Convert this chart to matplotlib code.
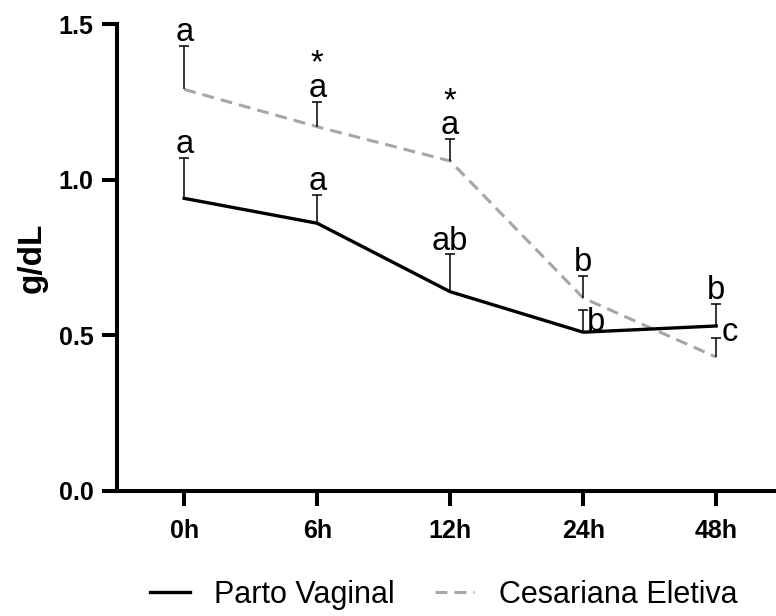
import matplotlib.pyplot as plt

times = ["0h", "6h", "12h", "24h", "48h"]
vaginal = [0.94, 0.86, 0.64, 0.51, 0.53]
vaginal_err = [0.13, 0.09, 0.12, 0.07, 0.07]
cesarea = [1.29, 1.17, 1.06, 0.62, 0.43]
cesarea_err = [0.14, 0.08, 0.07, 0.07, 0.06]
vaginal_letters = ["a", "a", "ab", "b", "b"]
cesarea_letters = ["a", "*\na", "*\na", "b", "c"]

plt.rcParams['font.family'] = ['Liberation Sans', 'DejaVu Sans']

fig = plt.figure(figsize=(7.76, 6.16), dpi=100)
ax = fig.add_axes([0.151, 0.203, 0.849, 0.758])

x = list(range(len(times)))
ax.plot(x, vaginal, color='black', lw=2.4, label='Parto Vaginal', zorder=3)
ax.plot(x, cesarea, color='#a6a6a6', lw=2.2, ls=(0, (3.9, 2.3)),
        label='Cesariana Eletiva', zorder=2)

# one-sided (upper) error bars only
for vals, errs in [(vaginal, vaginal_err), (cesarea, cesarea_err)]:
    eb = ax.errorbar(x, vals, yerr=[[0] * 5, errs], fmt='none', ecolor='black',
                     elinewidth=1.1, capsize=3.6, capthick=1.1, zorder=4)
    eb.lines[1][0].set_visible(False)

lab_font = dict(fontsize=23.5, linespacing=0.72)
for i in range(5):
    top = vaginal[i] + vaginal_err[i]
    if i == 3:
        ax.text(i + 0.025, vaginal[i] - 0.02, vaginal_letters[i], ha='left', va='bottom', **lab_font)
    else:
        ax.text(i, top - 0.007, vaginal_letters[i], ha='center', va='bottom', **lab_font)
    top = cesarea[i] + cesarea_err[i]
    if i == 4:
        ax.text(i + 0.04, 0.51, cesarea_letters[i], ha='left', va='center', **lab_font)
    else:
        ax.text(i, top - 0.007, cesarea_letters[i], ha='center', va='bottom', **lab_font)

ax.set_xlim(-0.504, 4.45)
ax.set_ylim(0, 1.5)
ax.set_yticks([0.0, 0.5, 1.0, 1.5])
ax.set_yticklabels(["0.0", "0.5", "1.0", "1.5"])
ax.set_xticks(x)
ax.set_xticklabels(times)
for lbl in ax.get_xticklabels() + ax.get_yticklabels():
    lbl.set_fontweight('bold')
    lbl.set_fontsize(18)
ax.set_ylabel("g/dL", fontsize=24, fontweight='bold', labelpad=8)

for s in ['top', 'right']:
    ax.spines[s].set_visible(False)
for s in ['left', 'bottom']:
    ax.spines[s].set_linewidth(2.9)
ax.tick_params(axis='both', width=2.9, length=11, pad=6)
ax.tick_params(axis='x', pad=9)

fig.legend(loc='lower center', bbox_to_anchor=(0.572, -0.035), ncol=2, frameon=False,
           fontsize=22, handlelength=1.3, columnspacing=1.3, handletextpad=0.8)

fig.savefig("out.png", dpi=100)
